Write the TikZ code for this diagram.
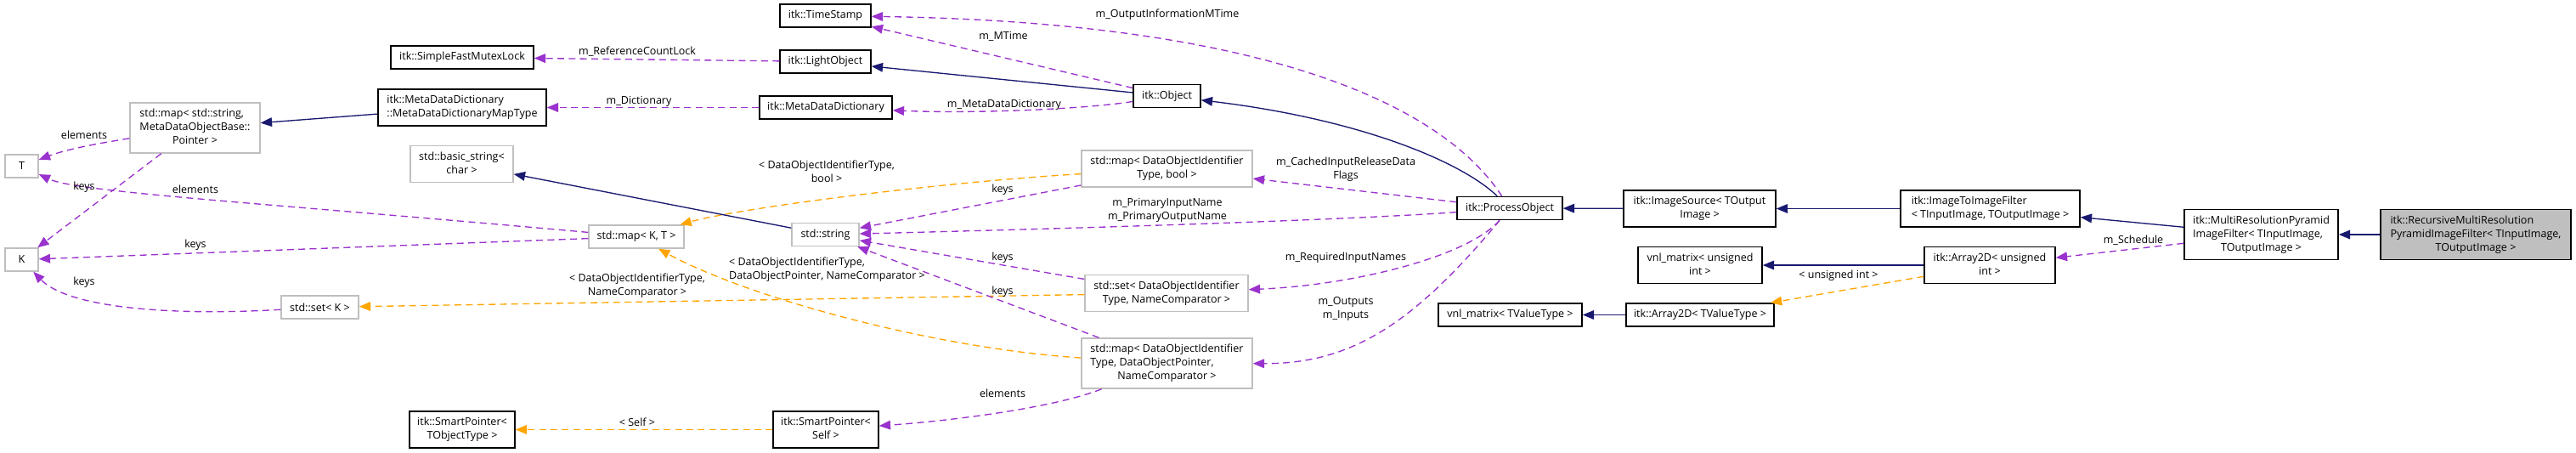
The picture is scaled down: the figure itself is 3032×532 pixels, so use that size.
\documentclass[tikz,border=0pt]{standalone}
\usepackage{fontspec}
\setmainfont{Open Sans}
\usetikzlibrary{arrows.meta}
\definecolor{inhc}{HTML}{191970}
\definecolor{usec}{HTML}{9A32CD}
\definecolor{tplc}{HTML}{FFA500}
\definecolor{ugray}{HTML}{BFBFBF}
\newcommand{\ml}[2]{\begin{tabular}{@{}l@{}}#1\\\multicolumn{1}{@{}c@{}}{#2}\end{tabular}}
\tikzset{
  box/.style={draw=black, line width=1.1pt, fill=white, rectangle, inner sep=0pt,
    font=\fontsize{9.4}{12}\selectfont, minimum height=20.25pt},
  udoc/.style={box, draw=ugray},
  mainbox/.style={box, fill=ugray},
  twol/.style={minimum height=32.25pt},
  threel/.style={minimum height=44.25pt},
  lbl/.style={font=\fontsize{9.4}{12}\selectfont, inner sep=0pt, align=center},
  tip/.style={-{Triangle[length=10pt,width=8pt]}},
  inhe/.style={draw=inhc, line width=1pt, tip},
  usee/.style={draw=usec, line width=1pt, dash pattern=on 6pt off 4pt, tip},
  tple/.style={draw=tplc, line width=1pt, dash pattern=on 6pt off 4pt, tip},
}
\begin{document}
\begin{tikzpicture}[x=0.75pt, y=-0.75pt]
\useasboundingbox[fill=white] (0,0) rectangle (3032,532);
% nodes
\node[box, minimum width=80.25pt] (ts) at (971.5,18.5) {itk::TimeStamp};
\node[box, minimum width=80.25pt] (lo) at (971.5,72.5) {itk::LightObject};
\node[box, minimum width=126pt] (sfml) at (544,67.5) {itk::SimpleFastMutexLock};
\node[box, minimum width=117pt] (mdd) at (972,126.5) {itk::MetaDataDictionary};
\node[box, twol, minimum width=148.5pt] (mddmt) at (544,126.5) {\ml{itk::MetaDataDictionary}{::MetaDataDictionaryMapType}};
\node[udoc, threel, minimum width=114.75pt] (smap) at (229.5,150.5) {\ml{std::map< std::string,\\MetaDataObjectBase::}{Pointer >}};
\node[udoc, minimum width=29.25pt] (T) at (25.5,195.5) {T};
\node[udoc, minimum width=29.25pt] (K) at (25.5,305.5) {K};
\node[udoc, twol, minimum width=90.75pt] (bstr) at (543.5,193) {\ml{std::basic\_string<}{char >}};
\node[udoc, minimum width=84pt] (mapKT) at (749,278.5) {std::map< K, T >};
\node[udoc, minimum width=68.25pt] (setK) at (376.5,361.5) {std::set< K >};
\node[box, twol, minimum width=93pt] (spT) at (544,505.5) {\ml{itk::SmartPointer<}{TObjectType >}};
\node[box, twol, minimum width=93pt] (spS) at (972,505.5) {\ml{itk::SmartPointer<}{Self >}};
\node[udoc, minimum width=59.25pt] (str) at (971.5,276) {std::string};
\node[box, minimum width=59.25pt] (obj) at (1373.5,113) {itk::Object};
\node[udoc, twol, minimum width=150.75pt] (mapB) at (1373.5,198.5) {\ml{std::map< DataObjectIdentifier}{Type, bool >}};
\node[udoc, twol, minimum width=144pt] (setN) at (1373,345) {\ml{std::set< DataObjectIdentifier}{Type, NameComparator >}};
\node[udoc, threel, minimum width=150.75pt] (mapD) at (1373.5,427.5) {\ml{std::map< DataObjectIdentifier\\Type, DataObjectPointer,}{NameComparator >}};
\node[box, minimum width=93pt] (po) at (1777,245) {itk::ProcessObject};
\node[box, twol, minimum width=134.25pt] (is) at (2000.5,245.5) {\ml{itk::ImageSource< TOutput}{Image >}};
\node[box, twol, minimum width=158.25pt] (itif) at (2342.5,245.5) {\ml{itk::ImageToImageFilter}{< TInputImage, TOutputImage >}};
\node[box, twol, minimum width=109.5pt] (vnlU) at (2001,312) {\ml{vnl\_matrix< unsigned}{int >}};
\node[box, minimum width=126.75pt] (vnlT) at (1777.5,370.5) {vnl\_matrix< TValueType >};
\node[box, minimum width=130.5pt] (a2T) at (2001,370.5) {itk::Array2D< TValueType >};
\node[box, twol, minimum width=115.5pt] (a2U) at (2342,312) {\ml{itk::Array2D< unsigned}{int >}};
\node[box, threel, minimum width=135.75pt] (mrp) at (2661.5,276) {\ml{itk::MultiResolutionPyramid\\ImageFilter< TInputImage,}{TOutputImage >}};
\node[mainbox, threel, minimum width=168pt] (rec) at (2914,276) {\ml{itk::RecursiveMultiResolution\\PyramidImageFilter< TInputImage,}{TOutputImage >}};
% edges
\draw[inhe] (rec) -- (mrp);
\draw[inhe] (mrp) -- (itif);
\draw[usee] (mrp) -- (a2U);
\draw[inhe] (itif) -- (is);
\draw[inhe] (is) -- (po);
\draw[inhe] (a2U) -- (vnlU);
\draw[tple] (a2U) -- (a2T);
\draw[inhe] (a2T) -- (vnlT);
\draw[inhe] (po) .. controls (1720,190) and (1600,140) .. (obj);
\draw[usee] (po) .. controls (1694,118) and (1476,26) .. (ts);
\draw[usee] (po) -- (mapB);
\draw[usee] (po) .. controls (1600,258) and (1300,268) .. (str);
\draw[usee] (po) .. controls (1730,300) and (1600,335) .. (setN);
\draw[usee] (po) .. controls (1663,382) and (1590,428) .. (mapD);
\draw[inhe] (obj) -- (lo);
\draw[usee] (obj) -- (ts);
\draw[usee] (obj) .. controls (1280,128) and (1150,134) .. (mdd);
\draw[usee] (lo) -- (sfml);
\draw[usee] (mdd) -- (mddmt);
\draw[inhe] (mddmt) -- (smap);
\draw[usee] (smap) .. controls (120,168) and (80,175) .. (T);
\draw[usee] (smap) -- (K);
\draw[usee] (mapKT) .. controls (300,238) and (90,226) .. (T);
\draw[usee] (mapKT) -- (K);
\draw[usee] (setK) .. controls (200,372) and (80,362) .. (K);
\draw[tple] (mapB) .. controls (1100,215) and (870,245) .. (mapKT);
\draw[usee] (mapB) -- (str);
\draw[inhe] (str) -- (bstr);
\draw[usee] (setN) -- (str);
\draw[tple] (setN) -- (setK);
\draw[usee] (mapD) -- (str);
\draw[tple] (mapD) .. controls (1100,410) and (880,350) .. (mapKT);
\draw[usee] (mapD) .. controls (1240,480) and (1120,495) .. (spS);
\draw[tple] (spS) -- (spT);
% labels
\node[lbl] (l1) at (2511,283) {m\_Schedule};
\node[lbl] (l2) at (2164,324) {< unsigned int >};
\node[lbl] (l3) at (1374,17) {m\_OutputInformationMTime};
\node[lbl] (l4) at (1181,43) {m\_MTime};
\node[lbl] (l5) at (1584,199) {m\_CachedInputReleaseData\\Flags};
\node[lbl] (l6) at (1374,247) {m\_PrimaryInputName\\m\_PrimaryOutputName};
\node[lbl] (l7) at (1584,303) {m\_RequiredInputNames};
\node[lbl] (l8) at (1584,363) {m\_Outputs\\m\_Inputs};
\node[lbl] (l9) at (1182,123) {m\_MetaDataDictionary};
\node[lbl] (l10) at (750,61) {m\_ReferenceCountLock};
\node[lbl] (l11) at (752,119) {m\_Dictionary};
\node[lbl] (l12) at (99,159) {elements};
\node[lbl] (l13) at (99,220) {keys};
\node[lbl] (l14) at (230,223) {elements};
\node[lbl] (l15) at (230,288) {keys};
\node[lbl] (l16) at (99,332) {keys};
\node[lbl] (l17) at (973,203) {\ml{< DataObjectIdentifierType,}{bool >}};
\node[lbl] (l18) at (1180,223) {keys};
\node[lbl] (l19) at (1180,303) {keys};
\node[lbl] (l20) at (973.5,317) {\ml{< DataObjectIdentifierType,}{DataObjectPointer, NameComparator >}};
\node[lbl] (l21) at (750,336) {\ml{< DataObjectIdentifierType,}{NameComparator >}};
\node[lbl] (l22) at (1180,343) {keys};
\node[lbl] (l23) at (1180,463) {elements};
\node[lbl] (l24) at (750,497) {< Self >};
\end{tikzpicture}
\end{document}
